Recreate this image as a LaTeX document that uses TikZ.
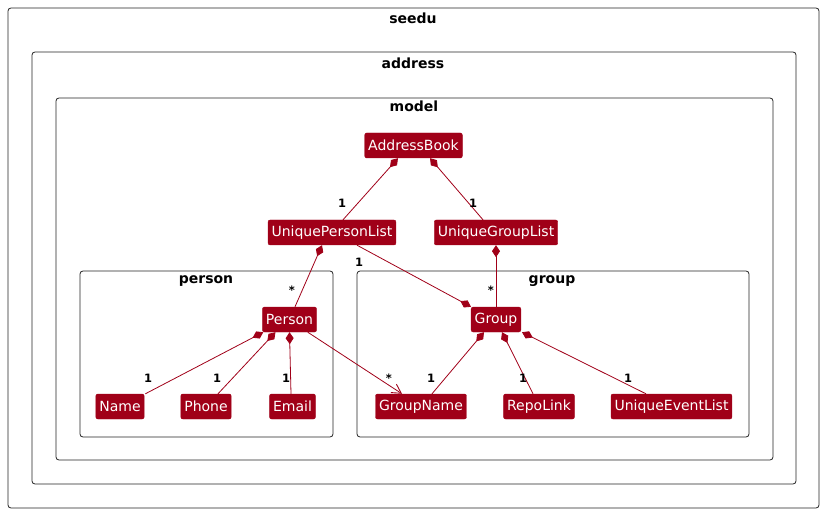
\documentclass[tikz,border=0pt]{standalone}
\usepackage{fontspec}
\setmainfont{DejaVu Sans}
\usetikzlibrary{arrows.meta}
\definecolor{clsred}{HTML}{A00018}
\definecolor{pkgline}{HTML}{222222}
\begin{document}
\begin{tikzpicture}[x=1pt,y=-1pt,
  cls/.style={fill=clsred,draw=clsred,rounded corners=2pt,text=white,font=\fontsize{14}{16}\selectfont,
    minimum height=25pt,inner xsep=3.5pt,inner ysep=0pt,anchor=center},
  pkg/.style={draw=pkgline,line width=0.8pt,rounded corners=3pt},
  ptitle/.style={font=\bfseries\fontsize{14}{16}\selectfont,inner sep=0pt},
  mult/.style={font=\bfseries\fontsize{11.5}{13}\selectfont,inner sep=0pt},
  edge/.style={draw=clsred,line width=0.8pt},
  comp/.style={edge,{Diamond[length=12pt,width=8pt,fill=clsred]}-},
  assoc/.style={edge,-{Straight Barb[length=9pt,width=10pt,line width=0.9pt]}}
]
\useasboundingbox (0,0) rectangle (825,513);
% packages
\draw[pkg] (8,8) rectangle (819,508);
\node[ptitle] (tseedu) at (413,18) {seedu};
\draw[pkg] (32,52) rectangle (796,484);
\node[ptitle] (taddress) at (413,63) {address};
\draw[pkg] (56,98) rectangle (773,460);
\node[ptitle] (tmodel) at (414,106) {model};
\draw[pkg] (80,271) rectangle (333,437);
\node[ptitle] (tperson) at (206,281) {person};
\draw[pkg] (357,271) rectangle (749,437);
\node[ptitle] (tgroup) at (552,281) {group};
% classes
\node[cls] (ab) at (413.5,145.5) {AddressBook};
\node[cls] (upl) at (332,232.5) {UniquePersonList};
\node[cls] (ugl) at (496,232.5) {UniqueGroupList};
\node[cls] (person) at (289.5,319.5) {Person};
\node[cls] (group) at (496,319.5) {Group};
\node[cls] (name) at (120,406.5) {Name};
\node[cls] (phone) at (206,406.5) {Phone};
\node[cls] (email) at (292.5,406.5) {Email};
\node[cls] (gname) at (421,406.5) {GroupName};
\node[cls] (repo) at (539,406.5) {RepoLink};
\node[cls] (uel) at (671.5,406.5) {UniqueEventList};
% edges
\draw[comp] ([xshift=-15.5pt]ab.south) -- ([xshift=11pt]upl.north);
\draw[comp] ([xshift=16.5pt]ab.south) -- ([xshift=-13pt]ugl.north);
\draw[comp] ([xshift=-10pt]upl.south) -- ([xshift=5.5pt]person.north);
\draw[comp] (group.north west) -- ([xshift=25pt]upl.south);
\draw[comp] (ugl.south) -- (group.north);
\draw[comp] ([xshift=1pt]person.south west) -- ([xshift=1pt]name.north east);
\draw[comp] ([xshift=-14pt]person.south) -- ([xshift=12pt]phone.north);
\draw[comp] (person.south) -- ([xshift=-1.5pt]email.north);
\draw[assoc] ([xshift=-9pt]person.south east) -- ([xshift=-19pt]gname.north);
\draw[comp] ([xshift=-12pt]group.south) -- ([xshift=11pt]gname.north);
\draw[comp] ([xshift=6pt]group.south) -- ([xshift=-6pt]repo.north);
\draw[comp] ([xshift=1pt]group.south east) -- ([xshift=-25.5pt]uel.north);
% multiplicities
\node[mult] (m1) at (342,203) {1};
\node[mult] (m2) at (473,203) {1};
\node[mult] (m3) at (292,290) {*};
\node[mult] (m4) at (359,262) {1};
\node[mult] (m5) at (491,290) {*};
\node[mult] (m6) at (148,378) {1};
\node[mult] (m7) at (217,378) {1};
\node[mult] (m8) at (286,378) {1};
\node[mult] (m9) at (389,378) {*};
\node[mult] (m10) at (431,378) {1};
\node[mult] (m11) at (523,378) {1};
\node[mult] (m12) at (628,378) {1};
\end{tikzpicture}
\end{document}
